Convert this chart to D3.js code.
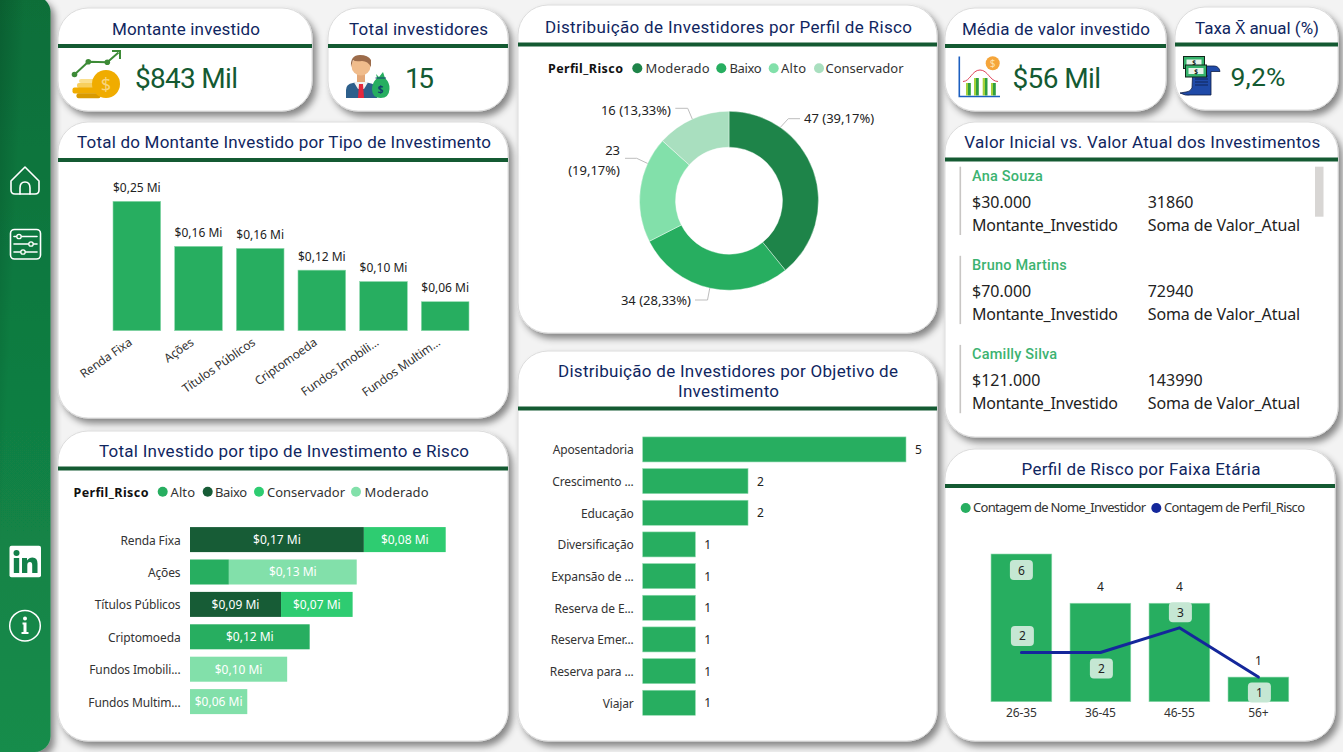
<!DOCTYPE html>
<html lang="pt-BR"><head><meta charset="utf-8"><title>Painel de Investimentos</title>
<script src="https://cdn.jsdelivr.net/npm/d3@7"></script>
<style>
html,body{margin:0;padding:0;background:#f3f3f3;overflow:hidden}
svg{display:block}
text{font-family:"Noto Sans","Open Sans",sans-serif;fill:#222}
.din{font-family:Roboto,"Noto Sans",sans-serif}
.axis path,.axis line{display:none}
.axis text{font-family:"Noto Sans",sans-serif;font-size:12px;fill:#333;letter-spacing:-.13px}
</style></head><body><svg id="c" width="1343" height="752"></svg>
<script>
// ---------- data ----------
const kpiTitles = ["Montante investido","Total investidores","Média de valor investido","Taxa X̄ anual (%)"];
const kpiValues = ["$843 Mil","15","$56 Mil","9,2%"];

const investTypes = ["Renda Fixa","Ações","Títulos Públicos","Criptomoeda","Fundos Imobili...","Fundos Multim..."];
const investTotals = [250,163,159,117,95,56]; // em milhares

const riskKeys = ["Alto","Baixo","Conservador","Moderado"];
const riskAlto        = [0,38,0,117,0,0];
const riskBaixo       = [170,0,89,0,0,0];
const riskConservador = [80,0,70,0,0,0];
const riskModerado    = [0,125,0,0,95,56];

const donutLabels = ["Moderado","Baixo","Alto","Conservador"];
const donutValues = [47,34,23,16];
const donutPercents = ["39,17%","28,33%","19,17%","13,33%"];

const goalLabels = ["Aposentadoria","Crescimento ...","Educação","Diversificação","Expansão de ...","Reserva de E...","Reserva Emer...","Reserva para ...","Viajar"];
const goalValues = [5,2,2,1,1,1,1,1,1];

const ageBands = ["26-35","36-45","46-55","56+"];
const ageInvestors = [6,4,4,1];
const ageProfiles = [2,2,3,1];

const tableNames = ["Ana Souza","Bruno Martins","Camilly Silva"];
const tableInitial = ["$30.000","$70.000","$121.000"];
const tableCurrent = ["31860","72940","143990"];

// ---------- style ----------
const GREEN="#27ae60", DARK="#145a32", NAVY="#10265f", EDGE="#8fd9ae";
const stackColors={Alto:"#27ae60",Baixo:"#175c36",Conservador:"#2ecc71",Moderado:"#82e0aa"};
const donutColors=["#1e8449","#27ae60","#82e0aa","#a9dfbf"];

const svg=d3.select("#c");
const defs=svg.append("defs");
const sh=defs.append("filter").attr("id","sh").attr("x","-10%").attr("y","-10%").attr("width","125%").attr("height","125%");
sh.append("feDropShadow").attr("dx",4).attr("dy",5).attr("stdDeviation",3.5).attr("flood-color","#000").attr("flood-opacity",.45);
const sg=defs.append("linearGradient").attr("id","sideV").attr("x1",0).attr("y1",0).attr("x2",0).attr("y2",1);
sg.append("stop").attr("offset",0).attr("stop-color","#0d6e39");sg.append("stop").attr("offset",1).attr("stop-color","#148c4b");
const sg2=defs.append("linearGradient").attr("id","sideH").attr("x1",0).attr("y1",0).attr("x2",1).attr("y2",0.45);
sg2.append("stop").attr("offset",0).attr("stop-color","#003018").attr("stop-opacity",.5);
sg2.append("stop").attr("offset",.55).attr("stop-color","#003018").attr("stop-opacity",0);

// sidebar
svg.append("rect").attr("x",-24).attr("y",-4).attr("width",74.5).attr("height",756).attr("rx",16).attr("fill","url(#sideV)").attr("filter","url(#sh)");
svg.append("rect").attr("x",-24).attr("y",-4).attr("width",74.5).attr("height",756).attr("rx",16).attr("fill","url(#sideH)");

// ---------- cards ----------
function fit(t,w){ if(w) t.attr("textLength",w).attr("lengthAdjust","spacing"); return t; }
function card(x,y,w,h,lineY,titles){
  const g=svg.append("g");
  g.append("rect").attr("x",x).attr("y",y).attr("width",w).attr("height",h).attr("rx",30).attr("fill","#fff").attr("stroke","#dcdcdc").attr("stroke-width",1).attr("filter","url(#sh)");
  g.append("rect").attr("x",x).attr("y",lineY).attr("width",w).attr("height",4).attr("fill",DARK);
  titles.forEach(t=>{
    fit(g.append("text").attr("class","din").attr("x",t.cx).attr("y",t.y).attr("text-anchor","middle").attr("font-size",t.fs||17).attr("style",`fill:${NAVY}`).text(t.s),t.w);
  });
}
card(58,8,254,103,44,[{s:kpiTitles[0],cx:186,y:35,w:148}]);
card(328,8,180,103,44,[{s:kpiTitles[1],cx:418.5,y:35,w:139}]);
card(518,5,419,328,42.5,[{s:"Distribuição de Investidores por Perfil de Risco",cx:728.5,y:33,w:367}]);
card(945,8,221,103,44,[{s:kpiTitles[2],cx:1056,y:35,w:188}]);
card(1175,7,163,103,42.5,[{s:kpiTitles[3],cx:1257,y:34,w:124}]);
card(58,122,450,296,158,[{s:"Total do Montante Investido por Tipo de Investimento",cx:284,y:148,w:414}]);
card(58,431,450,310,466.5,[{s:"Total Investido por tipo de Investimento e Risco",cx:284,y:457,w:370}]);
card(518,351,419,390,406.5,[{s:"Distribuição de Investidores por Objetivo de",cx:728,y:377,w:340},{s:"Investimento",cx:728.5,y:397,w:101}]);
card(945,122,393,315,157.5,[{s:"Valor Inicial vs. Valor Atual dos Investimentos",cx:1142.3,y:148,w:356}]);
card(945,449,390,292,484,[{s:"Perfil de Risco por Faixa Etária",cx:1141,y:475,w:239}]);

// KPI values
[[kpiValues[0],135,87.5,103,28],[kpiValues[1],405,87.5,29,28],[kpiValues[2],1012.5,87.5,88.5,28],[kpiValues[3],1230.5,85.5,55,26.5]]
 .forEach(d=>fit(svg.append("text").attr("class","din").attr("x",d[1]).attr("y",d[2]).attr("font-size",d[4]).attr("style",`fill:${DARK}`).text(d[0]),d[3]));

const brl=v=>"$"+(v/1000).toFixed(2).replace(".",",")+" Mi";

function legend(x,y,cy,title,tw,items){
  if(title) fit(svg.append("text").attr("x",x).attr("y",y).attr("font-size",12.5).attr("font-weight",700).attr("style","fill:#111").text(title),tw);
  items.forEach(d=>{
    svg.append("circle").attr("cx",d.cx).attr("cy",cy).attr("r",5).attr("fill",d.c);
    fit(svg.append("text").attr("x",d.tx).attr("y",y).attr("font-size",13).attr("style","fill:#333").text(d.k),d.w);
  });
}

// ---------- chart 1: column ----------
{
  const x=d3.scaleBand().domain(investTypes).range([113-7,469+7]).paddingInner(.2266).paddingOuter(.1135);
  const y=d3.scaleLinear().domain([0,250]).range([330.7,201.3]);
  const g=svg.append("g");
  g.selectAll("rect").data(investTypes).join("rect")
    .attr("x",d=>x(d)).attr("width",x.bandwidth())
    .attr("y",(d,i)=>y(investTotals[i])).attr("height",(d,i)=>y(0)-y(investTotals[i])).attr("fill",GREEN).attr("stroke",EDGE).attr("stroke-width",.6);
  g.selectAll("text.v").data(investTypes).join("text").attr("class","v")
    .attr("x",d=>x(d)+x.bandwidth()/2).attr("y",(d,i)=>y(investTotals[i])-9.5)
    .attr("text-anchor","middle").attr("font-size",12).text((d,i)=>brl(investTotals[i]));
  const ax=svg.append("g").attr("class","axis").attr("transform","translate(0,330.7)").call(d3.axisBottom(x).tickSize(0));
  ax.selectAll("text").attr("text-anchor","end").attr("dy",0).attr("y",0)
    .attr("transform","translate(-4,13.5) rotate(-35)");
}

// ---------- chart 2: stacked bars ----------
{
  const rows=investTypes.map((t,i)=>({t,Alto:riskAlto[i],Baixo:riskBaixo[i],Conservador:riskConservador[i],Moderado:riskModerado[i]}));
  const stack=d3.stack().keys(["Baixo","Alto","Conservador","Moderado"])(rows);
  const x=d3.scaleLinear().domain([0,250]).range([190,445.7]);
  const y=d3.scaleBand().domain(investTypes).range([523.4,717.8]).paddingInner(.228).paddingOuter(.114);
  stack.forEach(s=>{
    const g=svg.append("g");
    g.selectAll("rect").data(s).join("rect").attr("x",d=>x(d[0])).attr("width",d=>x(d[1])-x(d[0]))
      .attr("y",d=>y(d.data.t)).attr("height",y.bandwidth()).attr("fill",stackColors[s.key]);
    g.selectAll("text").data(s.filter(d=>d[1]-d[0]>=50)).join("text")
      .attr("x",d=>(x(d[0])+x(d[1]))/2).attr("y",d=>y(d.data.t)+y.bandwidth()/2+4.3)
      .attr("text-anchor","middle").attr("font-size",12).attr("style","fill:#fff").text(d=>brl(d[1]-d[0]));
  });
  const ax=svg.append("g").attr("class","axis").attr("transform","translate(190,0)").call(d3.axisLeft(y).tickSize(0).tickPadding(9.5));
  ax.selectAll("text").attr("dy",".42em");
  legend(73.5,497,491.8,"Perfil_Risco",75,
    riskKeys.map((k,i)=>({k,c:stackColors[k],cx:[162.7,207.7,259,356][i],tx:[170.5,215,267,364.5][i],w:[24.5,32,78,64][i]})));
}

// ---------- chart 3: donut ----------
{
  const cx=729,cy=200.7,R=89.5,r=53.5;
  const arcs=d3.pie().sort(null)(donutValues);
  const arc=d3.arc().outerRadius(R).innerRadius(r);
  const g=svg.append("g").attr("transform",`translate(${cx},${cy})`);
  g.selectAll("path").data(arcs).join("path").attr("d",arc).attr("fill",(d,i)=>donutColors[i]).attr("stroke","#fff").attr("stroke-width",.4);
  // leader lines: anchor angle on the ring, elbow, tail
  const leaders=[{a:35,ex:59.3,ey:-82,tx:71},{a:192.4,ex:-21.5,ey:99.3,tx:-34},{a:294.6,ex:-92.3,ey:-42.4,tx:-104},{a:335.8,ex:-41.3,ey:-92.4,tx:-53.7}];
  leaders.forEach(l=>{
    const p=d3.pointRadial(l.a*Math.PI/180,R);
    g.append("path").attr("d",d3.line()([p,[l.ex,l.ey],[l.tx,l.ey]])).attr("fill","none").attr("stroke","#bdbdbd").attr("stroke-width",1);
  });
  const lab=(i)=>donutValues[i]+" ("+donutPercents[i]+")";
  const ts=[[804,123,"start",lab(0)],[691,305,"end",lab(1)],[671,115,"end",lab(3)]];
  ts.forEach(t=>svg.append("text").attr("x",t[0]).attr("y",t[1]).attr("text-anchor",t[2]).attr("font-size",13).text(t[3]));
  svg.append("text").attr("x",620).attr("y",155).attr("text-anchor","end").attr("font-size",13).text(donutValues[2]);
  svg.append("text").attr("x",620).attr("y",174.5).attr("text-anchor","end").attr("font-size",13).text("("+donutPercents[2]+")");
  legend(548,72.8,68.3,"Perfil_Risco",75,
    donutLabels.map((k,i)=>({k,c:donutColors[i],cx:[637.3,721.3,773.7,819][i],tx:[645.5,729.5,781,825.5][i],w:[64,32,25,78][i]})));
}

// ---------- chart 4: goals ----------
{
  const x=d3.scaleLinear().domain([0,5]).range([642.7,906]);
  const y=d3.scaleBand().domain(goalLabels).range([433.6,718.6]).paddingInner(.21).paddingOuter(.105);
  const g=svg.append("g");
  g.selectAll("rect").data(goalLabels).join("rect").attr("x",x(0)).attr("y",d=>y(d)).attr("height",y.bandwidth())
    .attr("width",(d,i)=>x(goalValues[i])-x(0)).attr("fill",GREEN).attr("stroke",EDGE).attr("stroke-width",.6);
  g.selectAll("text").data(goalLabels).join("text").attr("x",(d,i)=>x(goalValues[i])+9).attr("y",d=>y(d)+y.bandwidth()/2+4.5)
    .attr("font-size",12).text((d,i)=>goalValues[i]);
  const ax=svg.append("g").attr("class","axis").attr("transform","translate(642.7,0)").call(d3.axisLeft(y).tickSize(0).tickPadding(9));
  ax.selectAll("text").attr("dy",".42em");
}

// ---------- chart 5: combo ----------
{
  const x=d3.scaleBand().domain(ageBands).range([981.9,1297.9]).paddingInner(.231).paddingOuter(.1155);
  const y=d3.scaleLinear().domain([0,6]).range([701.7,554]);
  const g=svg.append("g");
  g.selectAll("rect").data(ageBands).join("rect").attr("x",d=>x(d)).attr("width",x.bandwidth())
    .attr("y",(d,i)=>y(ageInvestors[i])).attr("height",(d,i)=>y(0)-y(ageInvestors[i])).attr("fill",GREEN).attr("stroke",EDGE).attr("stroke-width",.6);
  const cxs=d=>x(d)+x.bandwidth()/2;
  g.append("path").datum(ageBands).attr("fill","none").attr("stroke","#14279b").attr("stroke-width",3).attr("stroke-linecap","round").attr("stroke-linejoin","round")
    .attr("d",d3.line().x(cxs).y((d,i)=>y(ageProfiles[i])));
  const pill=(px,py,t)=>{
    g.append("rect").attr("x",px-11.5).attr("y",py-10).attr("width",23).attr("height",20).attr("rx",4).attr("fill","#c5e7d3");
    g.append("text").attr("x",px).attr("y",py+4.5).attr("text-anchor","middle").attr("font-size",12).text(t);
  };
  ageBands.forEach((b,i)=>{
    if(i===0) pill(cxs(b),y(ageInvestors[i])+16,ageInvestors[i]);
    else g.append("text").attr("x",cxs(b)).attr("y",y(ageInvestors[i])-12).attr("text-anchor","middle").attr("font-size",12).text(ageInvestors[i]);
  });
  const side=[-16.5,16,-15.5,15.5];
  ageBands.forEach((b,i)=>pill(cxs(b)+1,y(ageProfiles[i])+side[i],ageProfiles[i]));
  svg.append("g").attr("class","axis").attr("transform","translate(0,701.7)").call(d3.axisBottom(x).tickSize(0).tickPadding(7));
  legend(0,512,508,null,0,[
    {k:"Contagem de Nome_Investidor",c:GREEN,cx:965.7,tx:973,w:173},
    {k:"Contagem de Perfil_Risco",c:"#14279b",cx:1156.3,tx:1164,w:141}]);
}

// ---------- table ----------
{
  const g=svg.append("g");
  tableNames.forEach((n,i)=>{
    const y0=166.7+i*89.1;
    g.append("rect").attr("x",959.5).attr("y",y0).attr("width",1.6).attr("height",68.3).attr("fill","#c8c6c4");
    g.append("text").attr("class","din").attr("x",972).attr("y",y0+14.4-i*.3).attr("font-size",14.5).attr("font-weight",500).attr("letter-spacing",.2).attr("style","fill:#3cb371").text(n);
    [[972,tableInitial[i],"Montante_Investido",146],[1147.7,tableCurrent[i],"Soma de Valor_Atual",152.5]].forEach(c=>{
      g.append("text").attr("x",c[0]).attr("y",y0+41.5).attr("font-size",16).attr("style","fill:#222").text(c[1]);
      fit(g.append("text").attr("x",c[0]).attr("y",y0+64.5).attr("font-size",16).attr("style","fill:#222").text(c[2]),c[3]);
    });
  });
  g.append("rect").attr("x",1315).attr("y",166.7).attr("width",8.5).attr("height",50).attr("fill","#d8d6d4");
}

// ---------- icons ----------
{
  const W={fill:"none",stroke:"#fff","stroke-width":1.6,"stroke-linejoin":"round","stroke-linecap":"round"};
  const P=(g,d,o)=>{const p=g.append("path").attr("d",d);Object.entries(o).forEach(([k,v])=>p.attr(k,v));return p;};
  const R=(g,x,y,w,h,f,rx)=>g.append("rect").attr("x",x).attr("y",y).attr("width",w).attr("height",h).attr("fill",f).attr("rx",rx||0);
  const C=(g,x,y,r,f)=>g.append("circle").attr("cx",x).attr("cy",y).attr("r",r).attr("fill",f);
  const side=svg.append("g");
  // home
  P(side,"M11 181 L25 167 L39 181 V190 Q39 194 35 194 H15 Q11 194 11 190 Z",W);
  P(side,"M20 194 V188 Q20 182 25 182 Q30 182 30 188 V194",W);
  // sliders
  side.append("rect").attr("x",10.5).attr("y",229.5).attr("width",30).attr("height",29.5).attr("rx",4).attr("fill","none").attr("stroke","#fff").attr("stroke-width",1.6);
  [[236.5,19],[244,31],[252,23]].forEach(d=>{
    P(side,`M14 ${d[0]} H37`,W);
    side.append("circle").attr("cx",d[1]).attr("cy",d[0]).attr("r",2.2).attr("fill","#15803f").attr("stroke","#fff").attr("stroke-width",1.3);
  });
  // linkedin
  R(side,9.5,545.7,31.5,31.5,"#fff",2);
  C(side,16.5,553,3,"#13804a");
  R(side,13.8,558,5.4,15,"#13804a");
  P(side,"M22 558 H27 V560.5 Q29 557.5 32.5 557.5 Q37.5 557.5 37.5 563.5 V573 H32.2 V565 Q32.2 562 30 562 Q27.3 562 27.3 565 V573 H22 Z",{fill:"#13804a"});
  // info
  side.append("circle").attr("cx",25).attr("cy",625.7).attr("r",15.3).attr("fill","none").attr("stroke","#fff").attr("stroke-width",1.5);
  C(side,25,618.5,2,"#fff");
  P(side,"M22.5 622.5 H26.5 V632 H28.5 V634 H21.5 V632 H23.5 V624.5 H22.5 Z",{fill:"#fff"});

  // coins
  const a=svg.append("g");
  P(a,"M74 75 L88.3 61.7 L107.3 62.3 L118.5 52.5",{fill:"none",stroke:"#3d8b37","stroke-width":2});
  P(a,"M112 51 H120 V59",{fill:"none",stroke:"#3d8b37","stroke-width":2});
  [[74.5,74.5],[88.3,61.7],[107.3,62.3]].forEach(d=>C(a,d[0],d[1],2.8,"#3d8b37"));
  R(a,79,79,18,4,"#fadf8e",2);R(a,77,83,20,5,"#f7cf5e",2);R(a,72.5,87.5,26,6,"#f0ac00",2);R(a,76.5,93.3,24,5,"#d99a00",2);
  C(a,106,84,14,"#f0ac00");
  a.append("text").attr("x",106).attr("y",90.5).attr("text-anchor","middle").attr("font-size",18).attr("style","fill:#f8d57e").text("$");
  // person
  const b=svg.append("g");
  P(b,"M346 98 V90 Q346 84 353 83 L361 81 L369 83 Q376 84 377 90 V98 Z",{fill:"#2d5f8b"});
  P(b,"M354 82.5 L361 80 L368 82.5 L364 89 H358 Z",{fill:"#f1f1f1"});
  P(b,"M359 84 H363 L364 98 H358 Z",{fill:"#e5283c"});
  R(b,357,73,8,9,"#e3a777");
  C(b,361,66,9.5,"#f0bc8c");
  P(b,"M351 67 Q350 55 360 55 Q368 55 371 60 L371 67 Q368 61 362 61 Q355 62 353 60 Z",{fill:"#9c6b4a"});
  P(b,"M376 74 L379 77 L383 72 L385 78 Q390 83 389.5 89 Q389 98 380.7 98 Q372 98 372 89 Q372 83 377 78 Z",{fill:"#27ae60"});
  P(b,"M375.5 78 H386",{stroke:"#14406e","stroke-width":1,fill:"none"});
  b.append("text").attr("x",380.7).attr("y",93).attr("text-anchor","middle").attr("font-size",10).attr("font-weight",700).attr("style","fill:#14406e").text("$");
  // distribution
  const c=svg.append("g");
  P(c,"M959.3 56.5 V96.5 H1000",{fill:"none",stroke:"#1c5fc0","stroke-width":1.6});
  const cg=defs.append("linearGradient").attr("id","bg1").attr("x1",0).attr("y1",0).attr("x2",1).attr("y2",0);
  cg.append("stop").attr("offset",.5).attr("stop-color","#a6d13a");cg.append("stop").attr("offset",.5).attr("stop-color","#2e9e3f");
  [[966,83],[974,78],[982.7,78],[991,83]].forEach(d=>R(c,d[0],d[1],4.8,95.5-d[1],"url(#bg1)"));
  P(c,"M963 81.5 C970 81.5 972 70 980 70 C988 70 990 81.5 998 81.5",{fill:"none",stroke:"#e0435a","stroke-width":1});
  C(c,992.7,63.3,7,"#f5a53a");
  c.append("text").attr("x",992.7).attr("y",67).attr("text-anchor","middle").attr("font-size",10).attr("style","fill:#fde0ac").text("$");
  // receipt
  const e=svg.append("g");
  P(e,"M1193 66 H1214 Q1219 66 1220 71.5 H1211 V95 H1190 Q1186 96 1180 93 L1186 92 Q1190 92 1192 88 Z",{fill:"#1f4aa8",stroke:"#0d1d45","stroke-width":.8});
  [76,79,82,85].forEach(v=>P(e,`M1195 ${v} H1208`,{stroke:"#0d1d45","stroke-width":.8,fill:"none"}));
  [[1183.5,56.5],[1185.5,65]].forEach(d=>{
    e.append("rect").attr("x",d[0]).attr("y",d[1]).attr("width",21).attr("height",12).attr("fill","#35b26b").attr("stroke","#10241a").attr("stroke-width",1);
    e.append("rect").attr("x",d[0]+3).attr("y",d[1]+3).attr("width",15).attr("height",6).attr("fill","#e7f3ea");
    e.append("text").attr("x",d[0]+10.5).attr("y",d[1]+8.7).attr("text-anchor","middle").attr("font-size",6.5).attr("font-weight",700).attr("style","fill:#10241a").text("$");
  });
}
</script></body></html>
